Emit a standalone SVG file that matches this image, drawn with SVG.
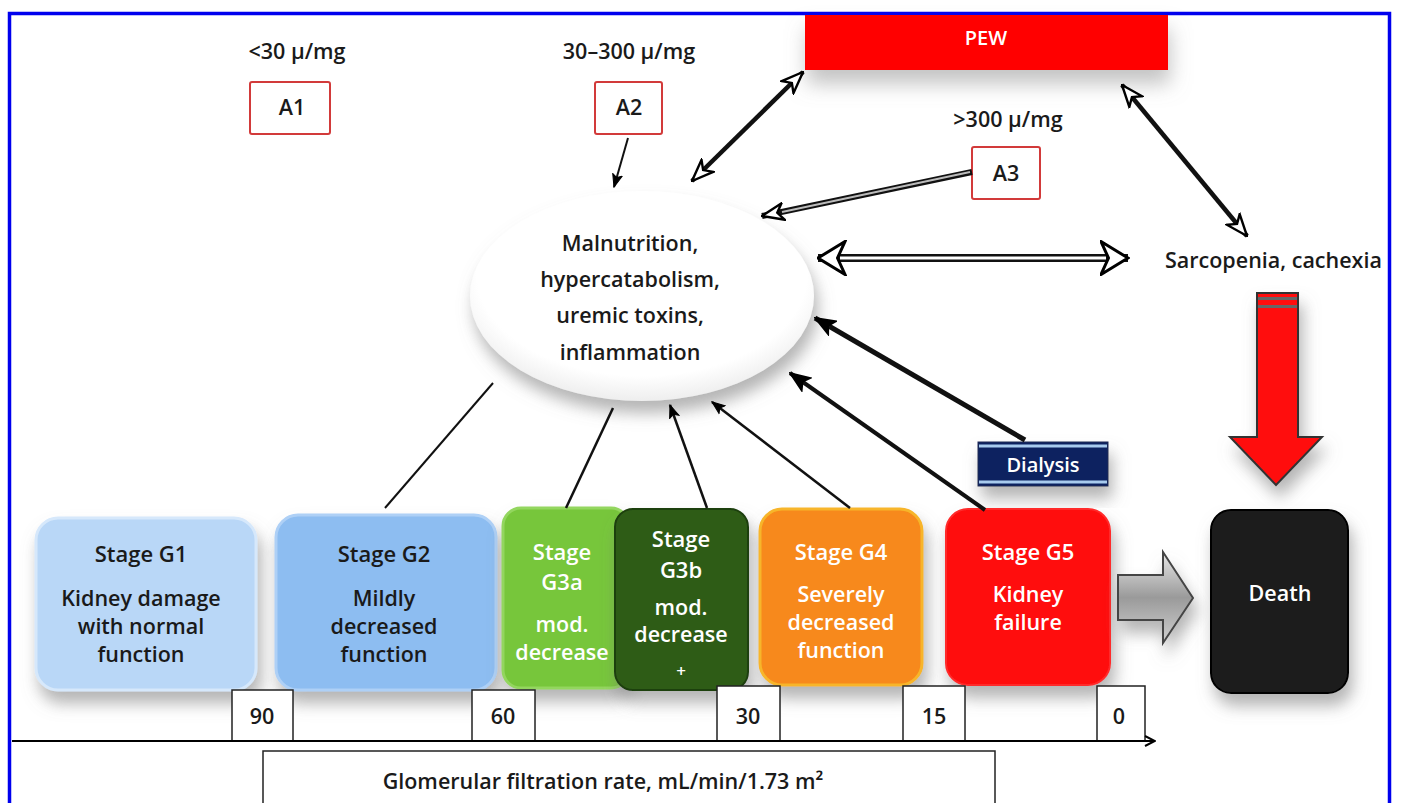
<svg xmlns="http://www.w3.org/2000/svg" width="1401" height="803" viewBox="0 0 1401 803">
<defs>
<style>
text{font-family:"Open Sans","Liberation Sans",sans-serif;font-weight:600;text-anchor:middle}
.dk{fill:#1a1a1a}
.wt{fill:#ffffff}
.lbl{font-size:21.5px}
.ttl{font-size:22px}
.abox{fill:#ffffff;stroke:#d23a3a;stroke-width:2}
.tick{fill:#ffffff;stroke:#222;stroke-width:1.5}
.ln{stroke:#111;fill:none}
</style>
<filter id="sh" x="-30%" y="-30%" width="160%" height="180%">
<feDropShadow dx="4" dy="12" stdDeviation="8" flood-color="#777" flood-opacity="0.55"/>
</filter>
<filter id="sh2" x="-30%" y="-30%" width="160%" height="200%">
<feDropShadow dx="2" dy="14" stdDeviation="10" flood-color="#888" flood-opacity="0.5"/>
</filter>
<marker id="open" markerUnits="userSpaceOnUse" viewBox="0 0 20 16" markerWidth="24" markerHeight="20" refX="19" refY="8" orient="auto-start-reverse">
<path d="M1,1 L19,8 L1,15 L6,8 Z" fill="#fff" stroke="#000" stroke-width="2"/>
</marker>
<marker id="openBig" markerUnits="userSpaceOnUse" viewBox="0 0 20 24" markerWidth="30" markerHeight="36" refX="19" refY="12" orient="auto-start-reverse">
<path d="M1,1 L19,12 L1,23 L6,12 Z" fill="#fff" stroke="#000" stroke-width="2"/>
</marker>
<marker id="solid" markerUnits="userSpaceOnUse" viewBox="0 0 20 16" markerWidth="22" markerHeight="18" refX="19" refY="8" orient="auto">
<path d="M1,1 L19,8 L1,15 L5,8 Z" fill="#000" stroke="#000" stroke-width="1.5"/>
</marker>
<marker id="small" markerUnits="userSpaceOnUse" viewBox="0 0 20 16" markerWidth="14" markerHeight="12" refX="19" refY="8" orient="auto">
<path d="M1,1 L19,8 L1,15 L5,8 Z" fill="#000" stroke="#000" stroke-width="1.5"/>
</marker>
<marker id="axis" markerUnits="userSpaceOnUse" viewBox="0 0 12 12" markerWidth="12" markerHeight="12" refX="11" refY="6" orient="auto">
<path d="M1,1 L11,6 L1,11" fill="none" stroke="#000" stroke-width="2"/>
</marker>
<linearGradient id="gArrow" x1="0" y1="0" x2="0" y2="1">
<stop offset="0" stop-color="#e8e8e8"/><stop offset="0.5" stop-color="#9a9a9a"/><stop offset="1" stop-color="#d0d0d0"/>
</linearGradient>
<radialGradient id="gEll" cx="0.5" cy="0.4" r="0.6">
<stop offset="0.8" stop-color="#ffffff"/><stop offset="1" stop-color="#eeeeee"/>
</radialGradient>
</defs>

<rect x="0" y="0" width="1401" height="803" fill="#ffffff"/>
<rect x="9.5" y="13.5" width="1380" height="800" fill="none" stroke="#0000ee" stroke-width="3.5"/>

<!-- Nodes -->
<g id="pew">
<rect x="805" y="15" width="363" height="55" fill="#ff0505" filter="url(#sh2)"/>
<text x="986" y="45" class="wt" style="font-size:20px">PEW</text>
</g>

<g id="a1">
<text x="297" y="59" class="lbl dk">&lt;30 μ/mg</text>
<rect x="250" y="82" width="80" height="52" class="abox" rx="2"/>
<text x="292" y="115" class="lbl dk">A1</text>
</g>
<g id="a2">
<text x="629" y="59" class="lbl dk">30–300 μ/mg</text>
<rect x="595" y="82" width="67" height="52" class="abox" rx="2"/>
<text x="629" y="115" class="lbl dk">A2</text>
</g>
<g id="a3">
<text x="1008" y="127" class="lbl dk">&gt;300 μ/mg</text>
<rect x="972" y="147" width="68" height="52" class="abox" rx="2"/>
<text x="1006" y="181" class="lbl dk">A3</text>
</g>

<g id="factors">
<ellipse cx="642" cy="296" rx="172" ry="105" fill="url(#gEll)" filter="url(#sh)"/>
<text x="630" y="251" class="lbl dk">Malnutrition,</text>
<text x="630" y="287" class="lbl dk">hypercatabolism,</text>
<text x="630" y="323" class="lbl dk">uremic toxins,</text>
<text x="630" y="360" class="lbl dk">inflammation</text>
</g>

<g id="sarcopenia">
<text x="1165" y="268" class="dk" style="font-size:21.5px;text-anchor:start">Sarcopenia, cachexia</text>
</g>

<g id="dialysis">
<rect x="978" y="442" width="130" height="44" fill="#0f2160" stroke="#1a2a55" stroke-width="1" filter="url(#sh)"/>
<line x1="979" y1="446" x2="1107" y2="446" stroke="#a8cbee" stroke-width="3"/>
<line x1="979" y1="482" x2="1107" y2="482" stroke="#a8cbee" stroke-width="3"/>
<text x="1043" y="472" class="wt" style="font-size:20px">Dialysis</text>
</g>

<g id="g1">
<rect x="36" y="518" width="220" height="172" rx="22" fill="#b9d7f7" stroke="#d6e8fb" stroke-width="3" filter="url(#sh)"/>
<text x="141" y="562" class="ttl dk">Stage G1</text>
<text x="141" y="606" class="lbl dk">Kidney damage</text>
<text x="141" y="634" class="lbl dk">with normal</text>
<text x="141" y="662" class="lbl dk">function</text>
</g>
<g id="g2">
<rect x="276" y="515" width="220" height="175" rx="22" fill="#8dbdf1" stroke="#aed0f6" stroke-width="3" filter="url(#sh)"/>
<text x="384" y="562" class="ttl dk">Stage G2</text>
<text x="384" y="606" class="lbl dk">Mildly</text>
<text x="384" y="634" class="lbl dk">decreased</text>
<text x="384" y="662" class="lbl dk">function</text>
</g>
<g id="g3a">
<rect x="503" y="508" width="126" height="180" rx="18" fill="#77c63a" stroke="#93d65e" stroke-width="3" filter="url(#sh)"/>
<text x="562" y="560" class="ttl wt">Stage</text>
<text x="562" y="590" class="ttl wt">G3a</text>
<text x="562" y="632" class="lbl wt">mod.</text>
<text x="562" y="660" class="lbl wt">decrease</text>
</g>
<g id="g3b">
<rect x="615" y="509" width="133" height="181" rx="18" fill="#2f5c17" stroke="#1f4010" stroke-width="2" filter="url(#sh)"/>
<text x="681" y="547" class="ttl wt">Stage</text>
<text x="681" y="578" class="ttl wt">G3b</text>
<text x="681" y="615" class="lbl wt">mod.</text>
<text x="681" y="642" class="lbl wt">decrease</text>
<text x="681" y="677" class="wt" style="font-size:17px">+</text>
</g>
<g id="g4">
<rect x="760" y="509" width="162" height="176" rx="22" fill="#f7891a" stroke="#f7b52a" stroke-width="3" filter="url(#sh)"/>
<text x="841" y="560" class="ttl wt">Stage G4</text>
<text x="841" y="602" class="lbl wt">Severely</text>
<text x="841" y="630" class="lbl wt">decreased</text>
<text x="841" y="658" class="lbl wt">function</text>
</g>
<g id="g5">
<rect x="946" y="509" width="164" height="176" rx="22" fill="#ff0a0a" stroke="#ff2a2a" stroke-width="2" filter="url(#sh)"/>
<text x="1028" y="560" class="ttl wt">Stage G5</text>
<text x="1028" y="602" class="lbl wt">Kidney</text>
<text x="1028" y="630" class="lbl wt">failure</text>
</g>
<g id="death">
<rect x="1211" y="510" width="137" height="183" rx="20" fill="#1d1d1d" stroke="#000" stroke-width="2" filter="url(#sh)"/>
<text x="1280" y="601" class="lbl wt">Death</text>
</g>

<g id="axis-ticks">
<rect x="232" y="690" width="61" height="51" class="tick"/>
<text x="262" y="724" class="lbl dk">90</text>
<rect x="472" y="690" width="63" height="51" class="tick"/>
<text x="503" y="724" class="lbl dk">60</text>
<rect x="717" y="686" width="63" height="55" class="tick"/>
<text x="748" y="724" class="lbl dk">30</text>
<rect x="903" y="686" width="62" height="55" class="tick"/>
<text x="934" y="724" class="lbl dk">15</text>
<rect x="1097" y="686" width="48" height="55" class="tick"/>
<text x="1119" y="724" class="lbl dk">0</text>
</g>

<g id="gfr-label">
<rect x="263" y="751" width="732" height="60" fill="#ffffff" stroke="#222" stroke-width="1.5"/>
<text x="603" y="789" class="lbl dk">Glomerular filtration rate, mL/min/1.73 m²</text>
</g>

<!-- Connectors -->
<g id="connectors">
<line x1="12" y1="741" x2="1155" y2="741" stroke="#000" stroke-width="2" marker-end="url(#axis)"/>
<line x1="628" y1="138" x2="614" y2="187" class="ln" stroke-width="2" marker-end="url(#small)"/>
<line x1="803" y1="72" x2="692" y2="181" class="ln" stroke-width="4.5" marker-start="url(#open)" marker-end="url(#open)"/>
<line x1="972" y1="172" x2="762" y2="216" class="ln" stroke-width="6" stroke="#333" marker-end="url(#open)"/>
<line x1="970" y1="172" x2="782" y2="212" stroke="#bbb" stroke-width="2"/>
<line x1="818" y1="258" x2="1128" y2="258" class="ln" stroke-width="8" marker-start="url(#openBig)" marker-end="url(#openBig)"/>
<line x1="840" y1="258" x2="1106" y2="258" stroke="#fff" stroke-width="3"/>
<line x1="1122" y1="85" x2="1247" y2="236" class="ln" stroke-width="4.5" marker-start="url(#open)" marker-end="url(#open)"/>
<line x1="1025" y1="440" x2="815" y2="318" class="ln" stroke-width="5" marker-end="url(#solid)"/>
<line x1="985" y1="510" x2="790" y2="373" class="ln" stroke-width="4" marker-end="url(#solid)"/>
<line x1="850" y1="508" x2="712" y2="402" class="ln" stroke-width="2.5" marker-end="url(#small)"/>
<line x1="707" y1="508" x2="670" y2="405" class="ln" stroke-width="2.5" marker-end="url(#small)"/>
<line x1="566" y1="508" x2="613" y2="408" class="ln" stroke-width="2.5"/>
<line x1="385" y1="508" x2="493" y2="383" class="ln" stroke-width="2"/>
<g id="down-arrow" filter="url(#sh)">
<path d="M1257,293 L1298,293 L1298,437 L1322,437 L1276,485 L1230,437 L1257,437 Z" fill="#ff1010" stroke="#333" stroke-width="2"/>
<rect x="1258" y="297" width="39" height="3" fill="#666"/>
<rect x="1258" y="305" width="39" height="3" fill="#666"/>
</g>
<path d="M1118,575 L1163,575 L1163,552 L1193,598 L1163,643 L1163,620 L1118,620 Z" fill="url(#gArrow)" stroke="#444" stroke-width="2" filter="url(#sh)"/>
</g>
</svg>
